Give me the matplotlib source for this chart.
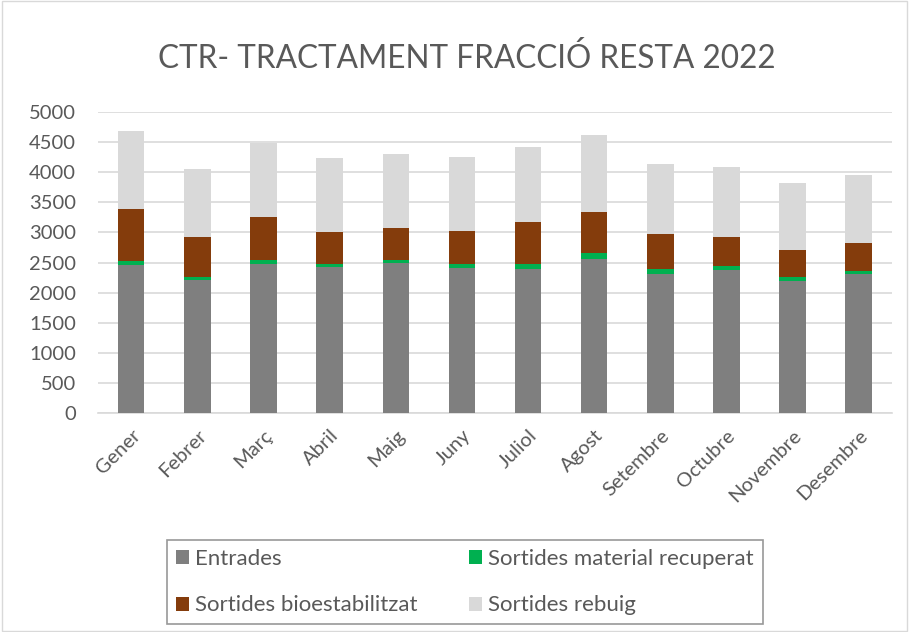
import numpy as np
import matplotlib.pyplot as plt
from matplotlib.patches import Rectangle

plt.rcParams['font.family'] = ['Lato', 'DejaVu Sans']

months = ['Gener', 'Febrer', 'Març', 'Abril', 'Maig', 'Juny', 'Juliol',
          'Agost', 'Setembre', 'Octubre', 'Novembre', 'Desembre']
entrades = [2460, 2206, 2483, 2422, 2495, 2406, 2389, 2561, 2311, 2372, 2195, 2306]
recuperat = [60, 55, 56, 56, 50, 61, 89, 95, 78, 73, 72, 55]
bioestab = [873, 667, 722, 522, 522, 561, 694, 678, 583, 477, 439, 461]
rebuig = [1283, 1122, 1223, 1228, 1228, 1217, 1239, 1277, 1156, 1156, 1122, 1139]

fig = plt.figure(figsize=(9.09, 6.32), dpi=100)
fig.patches.append(Rectangle((0.002, 0.002), 0.996, 0.996, transform=fig.transFigure,
                             fill=False, edgecolor='#d9d9d9', lw=1))
ax = fig.add_axes([0.108, 0.3465, 0.873, 0.4763])

x = np.arange(len(months))
w = 0.4
b1 = np.array(entrades)
b2 = b1 + np.array(recuperat)
b3 = b2 + np.array(bioestab)
h1 = ax.bar(x, entrades, w, color='#7f7f7f', label='Entrades', zorder=3)
h2 = ax.bar(x, recuperat, w, bottom=b1, color='#00b050', label='Sortides material recuperat', zorder=3)
h3 = ax.bar(x, bioestab, w, bottom=b2, color='#843c0c', label='Sortides bioestabilitzat', zorder=3)
h4 = ax.bar(x, rebuig, w, bottom=b3, color='#d9d9d9', label='Sortides rebuig', zorder=3)

ax.set_xlim(-0.5, 11.5)
ax.set_ylim(0, 5000)
ax.set_yticks(range(0, 5001, 500))
ax.yaxis.grid(True, color='#d9d9d9', lw=1.2, zorder=0)
ax.set_xticks(x)
ax.set_xticklabels(months, rotation=45, ha='right', rotation_mode='anchor')
ax.tick_params(axis='both', length=0, labelsize=14.5, labelcolor='#595959')
ax.tick_params(axis='y', pad=16)
ax.tick_params(axis='x', pad=10)
for s in ['top', 'right', 'left']:
    ax.spines[s].set_visible(False)
ax.spines['bottom'].set_color('#d9d9d9')
ax.spines['bottom'].set_linewidth(1.2)

fig.text(0.513, 0.908, 'CTR- TRACTAMENT FRACCIÓ RESTA 2022', ha='center', va='center',
         fontsize=22.7, color='#595959')

leg = fig.legend([h1, h3, h2, h4],
                 ['Entrades', 'Sortides bioestabilitzat', 'Sortides material recuperat', 'Sortides rebuig'],
                 ncol=2, loc='center', bbox_to_anchor=(0.5116, 0.079), fontsize=16,
                 frameon=True, fancybox=False, edgecolor='#7f7f7f', handlelength=0.6,
                 handleheight=0.6, handletextpad=0.27, columnspacing=2.3, labelspacing=1.2,
                 borderpad=0.4, borderaxespad=0, labelcolor='#595959')
leg.get_frame().set_linewidth(1.2)

fig.savefig('out.png', dpi=100)
